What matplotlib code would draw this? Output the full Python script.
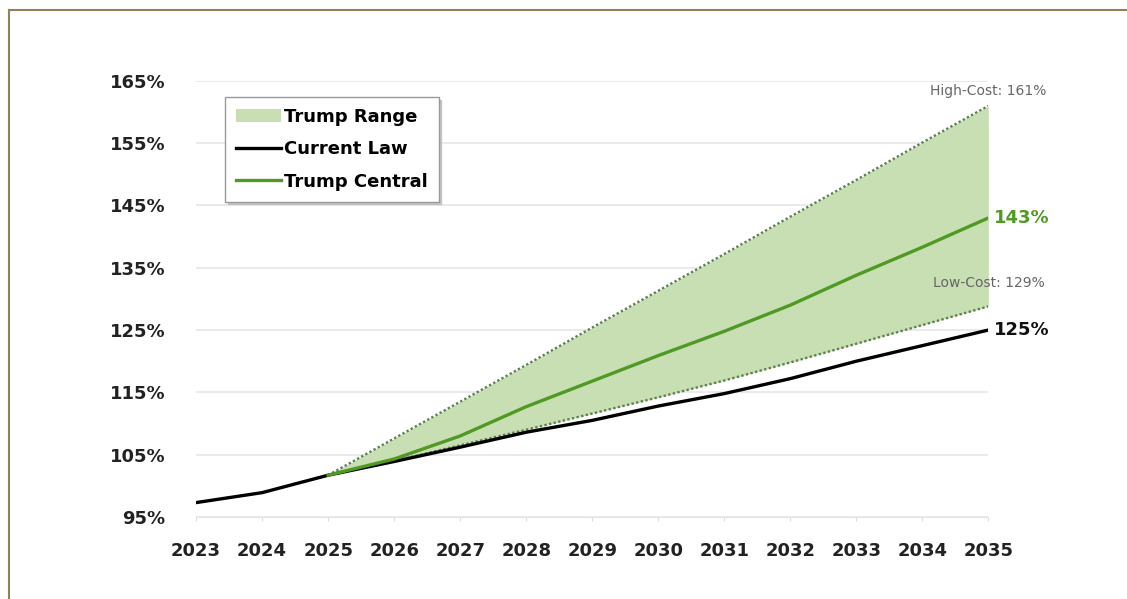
import numpy as np
import matplotlib.pyplot as plt
from matplotlib.patches import Patch
from matplotlib.lines import Line2D

plt.rcParams['font.family'] = ['DejaVu Sans']

# Jahre und Werte (Schulden in % des BIP)
jahre = [2023, 2024, 2025, 2026, 2027, 2028, 2029, 2030, 2031, 2032, 2033, 2034, 2035]
current_law = [97.3, 98.9, 101.7, 103.9, 106.2, 108.6, 110.5, 112.8, 114.8, 117.2, 120.0, 122.5, 125.0]

jahre_trump = [2025, 2026, 2027, 2028, 2029, 2030, 2031, 2032, 2033, 2034, 2035]
trump_central = [101.7, 104.3, 108.0, 112.7, 116.8, 120.9, 124.8, 129.0, 133.8, 138.3, 143.0]
trump_high = [101.7, 107.6, 113.5, 119.4, 125.4, 131.3, 137.2, 143.2, 149.1, 155.1, 161.0]
trump_low = [101.7, 104.0, 106.5, 109.0, 111.6, 114.2, 116.9, 119.8, 122.8, 125.8, 128.8]

yticks = [95, 105, 115, 125, 135, 145, 155, 165]

gruen = '#4f9a23'
fuellung = '#c8dfb3'

fig = plt.figure(figsize=(11.27, 5.99), dpi=100)
ax = fig.add_axes([0.174, 0.137, 0.703, 0.728])

ax.fill_between(jahre_trump, trump_low, trump_high, color=fuellung, linewidth=0, zorder=1)
ax.plot(jahre_trump, trump_high, color='#5f8050', linestyle=(0, (1, 1)), linewidth=1.7, zorder=2)
ax.plot(jahre_trump, trump_low, color='#5f8050', linestyle=(0, (1, 1)), linewidth=1.7, zorder=2)
ax.plot(jahre, current_law, color='black', linewidth=2.4, zorder=3)
ax.plot(jahre_trump, trump_central, color=gruen, linewidth=2.4, zorder=4)

ax.set_xlim(2023, 2035)
ax.set_ylim(95, 165)
ax.set_yticks(yticks)
ax.set_yticklabels([f'{v}%' for v in yticks], fontsize=13, fontweight='bold', color='#222222')
ax.set_xticks(jahre)
ax.set_xticklabels([str(j) for j in jahre], fontsize=13, fontweight='bold', color='#222222')
ax.tick_params(axis='y', length=0, pad=22)
ax.tick_params(axis='x', length=3, color='#dddddd', pad=15)
ax.grid(axis='y', color='#e6e6e6', linewidth=1.2)
for s in ['top', 'right', 'left']:
    ax.spines[s].set_visible(False)
ax.spines['bottom'].set_color('#e6e6e6')
ax.set_axisbelow(True)

# Beschriftungen am rechten Rand
ax.text(2035, 162.2, 'High-Cost: 161%', ha='center', va='bottom', fontsize=10, color='#666666')
ax.text(2035.08, 143, '143%', ha='left', va='center', fontsize=13, fontweight='bold', color=gruen)
ax.text(2035, 132.6, 'Low-Cost: 129%', ha='center', va='center', fontsize=10, color='#666666')
ax.text(2035.08, 125, '125%', ha='left', va='center', fontsize=13, fontweight='bold', color='#111111')

handles = [Patch(facecolor=fuellung, edgecolor='none', label='Trump Range'),
           Line2D([0], [0], color='black', linewidth=2.4, label='Current Law'),
           Line2D([0], [0], color=gruen, linewidth=2.4, label='Trump Central')]
leg = ax.legend(handles=handles, loc='upper left', bbox_to_anchor=(0.037, 0.963),
                borderaxespad=0, frameon=True, fancybox=False,
                shadow={'color': '#bbbbbb', 'alpha': 0.8},
                edgecolor='#999999', prop={'weight': 'bold', 'size': 13}, handlelength=2.5,
                handletextpad=0.15, borderpad=0.6, labelspacing=0.8)
leg.get_frame().set_linewidth(1.0)

# Rahmen oben und links
fig.add_artist(Line2D([0.008, 1.0], [0.983, 0.983], color='#8c8458', linewidth=1.5, transform=fig.transFigure))
fig.add_artist(Line2D([0.008, 0.008], [0.0, 0.983], color='#8c8458', linewidth=1.5, transform=fig.transFigure))

fig.savefig('out.png', dpi=100)
